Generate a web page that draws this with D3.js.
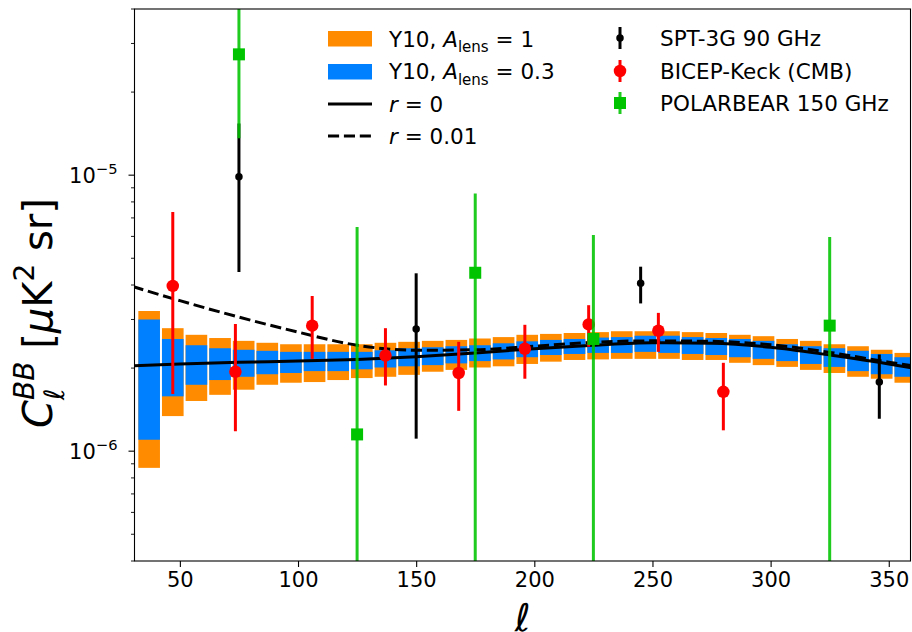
<!DOCTYPE html>
<html>
<head>
<meta charset="utf-8">
<script src="https://cdn.jsdelivr.net/npm/d3@7"></script>
<style>
  body { margin: 0; background: #fff; }
  text { font-family: "DejaVu Sans", sans-serif; fill: #000; white-space: pre; }
</style>
</head>
<body>
<div id="chart"></div>
<script>
// values in units of 1e-6 uK^2 sr
var unit = 1e-6;
var binWidth = 10;
var binCenters = [37, 47, 57, 67, 77, 87, 97, 107, 117, 127, 137, 147, 157, 167, 177, 187, 197,
                  207, 217, 227, 237, 247, 257, 267, 277, 287, 297, 307, 317, 327, 337, 347, 357];

// Y10, A_lens = 1 (orange)
var lens1Hi = [3.22, 2.79, 2.64, 2.57, 2.51, 2.47, 2.44, 2.44, 2.44, 2.44, 2.47, 2.49, 2.51, 2.53, 2.56, 2.59, 2.64,
               2.66, 2.68, 2.70, 2.72, 2.72, 2.72, 2.70, 2.68, 2.64, 2.61, 2.55, 2.51, 2.44, 2.40, 2.33, 2.27];
var lens1Lo = [0.87, 1.34, 1.52, 1.60, 1.67, 1.74, 1.77, 1.78, 1.81, 1.84, 1.86, 1.89, 1.94, 1.97, 2.01, 2.03, 2.07,
               2.11, 2.14, 2.15, 2.16, 2.16, 2.16, 2.14, 2.14, 2.09, 2.05, 2.02, 1.97, 1.92, 1.86, 1.83, 1.77];
// Y10, A_lens = 0.3 (blue)
var lens03Hi = [3.00, 2.55, 2.42, 2.36, 2.33, 2.31, 2.29, 2.29, 2.29, 2.29, 2.32, 2.36, 2.38, 2.40, 2.42, 2.46, 2.50,
                2.53, 2.55, 2.58, 2.59, 2.62, 2.62, 2.59, 2.57, 2.55, 2.51, 2.44, 2.40, 2.36, 2.31, 2.25, 2.19];
var lens03Lo = [1.10, 1.58, 1.74, 1.81, 1.86, 1.90, 1.92, 1.95, 1.95, 1.98, 2.01, 2.03, 2.05, 2.08, 2.12, 2.15, 2.19,
                2.23, 2.25, 2.27, 2.27, 2.29, 2.27, 2.25, 2.23, 2.19, 2.16, 2.12, 2.07, 2.02, 1.95, 1.90, 1.86];

// model curves
var curveEll = [30, 50, 75, 100, 125, 150, 175, 200, 225, 250, 275, 300, 325, 350, 360];
var r0 = [2.04, 2.07, 2.10, 2.12, 2.15, 2.20, 2.27, 2.35, 2.42, 2.47, 2.46, 2.38, 2.23, 2.07, 2.00];
var r001 = [3.95, 3.51, 3.06, 2.70, 2.42, 2.32, 2.33, 2.40, 2.48, 2.51, 2.50, 2.43, 2.28, 2.10, 2.04];

// SPT-3G 90 GHz
var sptEll = [75, 150, 245, 346];
var sptVal = [9.87, 2.77, 4.06, 1.78];
var sptLo = [4.46, 1.11, 3.43, 1.31];
var sptHi = [15.4, 4.41, 4.66, 2.24];

// BICEP-Keck (CMB)
var bkEll = [47, 73.5, 106, 137, 168, 196, 223, 252.5, 280];
var bkVal = [3.97, 1.94, 2.85, 2.22, 1.92, 2.35, 2.88, 2.73, 1.64];
var bkLo = [1.61, 1.18, 2.16, 1.73, 1.40, 1.83, 2.39, 2.29, 1.19];
var bkHi = [7.35, 2.89, 3.65, 2.79, 2.49, 2.87, 3.38, 3.17, 2.09];

// POLARBEAR 150 GHz (lower bound 0 = below zero)
var pbEll = [75, 125, 175, 225, 325];
var pbVal = [27.4, 1.15, 4.43, 2.55, 2.85];
var pbLo = [13.6, 0, 0, 0, 0];
var pbHi = [60, 6.49, 8.59, 6.07, 5.97];

var xTicks = [50, 100, 150, 200, 250, 300, 350];
var yTicks = [1e-6, 1e-5];
var yTickExp = ['\u22126', '\u22125'];

var W = 912, H = 632;
var L = 134.5, R = 910.5, T = 9, B = 561;
var fs = 21;
var green = '#00c400';

var svg = d3.select('#chart').append('svg').attr('width', W).attr('height', H);

var x = d3.scaleLinear().domain([30.8, 359.2]).range([L, R]);
var y = d3.scaleLog().domain([4e-7, 4e-5]).range([B, T]);
function yv(v) { return y(Math.max(v * unit, 1e-9)); }

svg.append('clipPath').attr('id', 'clip').append('rect')
  .attr('x', L).attr('y', T).attr('width', R - L).attr('height', B - T);
var plot = svg.append('g').attr('clip-path', 'url(#clip)');

function bands(lo, hi, color) {
  plot.append('g').selectAll('rect')
    .data(binCenters)
    .enter()
    .append('rect')
    .attr('x', function(d) { return x(d - binWidth / 2) + 1; })
    .attr('width', function(d) { return x(d + binWidth / 2) - x(d - binWidth / 2) - 2; })
    .attr('y', function(d, i) { return yv(hi[i]); })
    .attr('height', function(d, i) { return yv(lo[i]) - yv(hi[i]); })
    .attr('fill', color);
}
bands(lens1Lo, lens1Hi, '#ff8c00');
bands(lens03Lo, lens03Hi, '#0080ff');

var line = d3.line()
  .x(function(d, i) { return x(curveEll[i]); })
  .y(function(d) { return yv(d); })
  .curve(d3.curveMonotoneX);

plot.append('path').attr('d', line(r001)).attr('fill', 'none')
  .attr('stroke', '#000').attr('stroke-width', 3).attr('stroke-dasharray', '11.1,4.8');
plot.append('path').attr('d', line(r0)).attr('fill', 'none')
  .attr('stroke', '#000').attr('stroke-width', 3);

function errorbars(ell, val, lo, hi, color, lw, marker, size, opacity) {
  var g = plot.append('g');
  g.selectAll('line').data(ell).enter().append('line')
    .attr('x1', function(d) { return x(d); })
    .attr('x2', function(d) { return x(d); })
    .attr('y1', function(d, i) { return yv(lo[i]); })
    .attr('y2', function(d, i) { return yv(hi[i]); })
    .attr('stroke', color).attr('stroke-width', lw)
    .attr('stroke-opacity', opacity || 1);
  if (marker === 'square') {
    g.selectAll('rect').data(ell).enter().append('rect')
      .attr('x', function(d) { return x(d) - size / 2; })
      .attr('y', function(d, i) { return yv(val[i]) - size / 2; })
      .attr('width', size).attr('height', size).attr('fill', color);
  } else {
    g.selectAll('circle').data(ell).enter().append('circle')
      .attr('cx', function(d) { return x(d); })
      .attr('cy', function(d, i) { return yv(val[i]); })
      .attr('r', size / 2).attr('fill', color);
  }
}
errorbars(sptEll, sptVal, sptLo, sptHi, '#000', 3, 'circle', 7.5);
errorbars(bkEll, bkVal, bkLo, bkHi, '#ff0000', 3, 'circle', 12.5);
errorbars(pbEll, pbVal, pbLo, pbHi, green, 3, 'square', 12, 0.88);

// axes
var ax = svg.append('g').attr('transform', 'translate(0,' + B + ')')
  .call(d3.axisBottom(x).tickValues(xTicks).tickSize(6).tickPadding(4).tickFormat(d3.format('d')));
ax.select('.domain').remove();
ax.selectAll('line').attr('stroke', '#000').attr('stroke-width', 1.1);
ax.selectAll('text').attr('font-size', fs).attr('font-family', 'DejaVu Sans').attr('dy', '0.76em').attr('y', 10);

var yMinor = y.ticks(30).filter(function(v) {
  var m = v / Math.pow(10, Math.floor(Math.log10(v) + 1e-9));
  return Math.abs(m - 1) > 1e-6;
});
svg.append('g').selectAll('line').data(yMinor).enter().append('line')
  .attr('x1', L - 3.5).attr('x2', L)
  .attr('y1', function(d) { return y(d); }).attr('y2', function(d) { return y(d); })
  .attr('stroke', '#000').attr('stroke-width', 0.9);
svg.append('g').selectAll('line').data(yTicks).enter().append('line')
  .attr('x1', L - 6).attr('x2', L)
  .attr('y1', function(d) { return y(d); }).attr('y2', function(d) { return y(d); })
  .attr('stroke', '#000').attr('stroke-width', 1.1);

// pieces of mixed text laid out left to right
function richText(parent, parts, size) {
  var g = parent.append('g');
  var cx = 0;
  parts.forEach(function(p) {
    var t = g.append('text')
      .attr('xml:space', 'preserve')
      .attr('x', cx)
      .attr('y', (p.shift || 0) * size)
      .attr('font-size', size * (p.scale || 1))
      .attr('font-style', p.it ? 'italic' : 'normal')
      .text(p.t);
    var w = t.node().getComputedTextLength();
    if (!p.stack) cx += w;
  });
  return { g: g, width: cx };
}

yTicks.forEach(function(v, i) {
  var r = richText(svg, [{ t: '10' }, { t: yTickExp[i], scale: 0.7, shift: -0.42 }], fs);
  r.g.attr('transform', 'translate(' + (L - 17 - r.width) + ',' + (y(v) + 7.5) + ')');
});

svg.append('rect').attr('x', L).attr('y', T).attr('width', R - L).attr('height', B - T)
  .attr('fill', 'none').attr('stroke', '#000').attr('stroke-width', 1.1);

// axis labels
var yl = richText(svg, [
  { t: 'C', it: true },
  { t: '\u2113', it: true, scale: 0.7, shift: 0.3, stack: true },
  { t: 'BB', it: true, scale: 0.7, shift: -0.45 },
  { t: ' [' },
  { t: '\u03bc', it: true },
  { t: 'K' },
  { t: '2', scale: 0.7, shift: -0.45 },
  { t: ' sr]' }
], 40);
yl.g.attr('transform', 'translate(52,' + (313 + yl.width / 2) + ') rotate(-90)');

var xl = richText(svg, [{ t: '\u2113', it: true }], 38);
xl.g.attr('transform', 'translate(' + ((L + R) / 2 - xl.width / 2) + ',631)');

// legend
var leg = svg.append('g');
var legFs = 21.5;
leg.append('rect').attr('x', 328).attr('y', 31).attr('width', 44).attr('height', 15.5).attr('fill', '#ff8c00');
leg.append('rect').attr('x', 328).attr('y', 64).attr('width', 44).attr('height', 15.5).attr('fill', '#0080ff');
leg.append('line').attr('x1', 328).attr('x2', 372).attr('y1', 104).attr('y2', 104)
  .attr('stroke', '#000').attr('stroke-width', 3);
leg.append('line').attr('x1', 328).attr('x2', 372).attr('y1', 136).attr('y2', 136)
  .attr('stroke', '#000').attr('stroke-width', 3).attr('stroke-dasharray', '11.1,4.8');

var legRows = [
  [{ t: 'Y10, ' }, { t: 'A', it: true }, { t: 'lens', scale: 0.7, shift: 0.25 }, { t: ' = 1' }],
  [{ t: 'Y10, ' }, { t: 'A', it: true }, { t: 'lens', scale: 0.7, shift: 0.25 }, { t: ' = 0.3' }],
  [{ t: 'r', it: true }, { t: ' = 0' }],
  [{ t: 'r', it: true }, { t: ' = 0.01' }]
];
var legRowY = [39, 71.5, 104, 136];
legRows.forEach(function(parts, i) {
  var r = richText(leg, parts, legFs);
  r.g.attr('transform', 'translate(389,' + (legRowY[i] + 7.8) + ')');
});

var legPts = [
  { name: 'SPT-3G 90 GHz', color: '#000', marker: 'circle', size: 7.5, op: 1 },
  { name: 'BICEP-Keck (CMB)', color: '#ff0000', marker: 'circle', size: 12.5, op: 1 },
  { name: 'POLARBEAR 150 GHz', color: green, marker: 'square', size: 12, op: 0.88 }
];
var legPtY = [38, 71, 103];
legPts.forEach(function(d, i) {
  leg.append('line').attr('x1', 620).attr('x2', 620)
    .attr('y1', legPtY[i] - 11).attr('y2', legPtY[i] + 11)
    .attr('stroke', d.color).attr('stroke-width', 3).attr('stroke-opacity', d.op);
  if (d.marker === 'square') {
    leg.append('rect').attr('x', 620 - d.size / 2).attr('y', legPtY[i] - d.size / 2)
      .attr('width', d.size).attr('height', d.size).attr('fill', d.color);
  } else {
    leg.append('circle').attr('cx', 620).attr('cy', legPtY[i]).attr('r', d.size / 2).attr('fill', d.color);
  }
  leg.append('text').attr('x', 660).attr('y', legPtY[i] + 7.8).attr('font-size', legFs).text(d.name);
});
</script>
</body>
</html>
